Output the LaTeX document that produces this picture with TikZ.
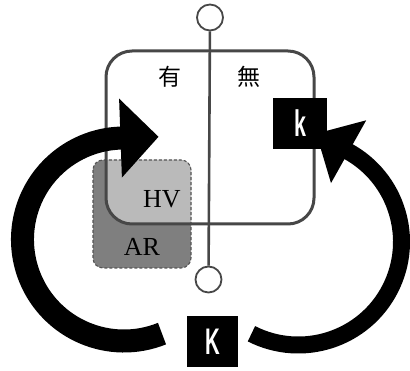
\documentclass[tikz,border=0pt]{standalone}
\usepackage{fontspec}
\setmainfont{Liberation Serif}
\newfontfamily\cjk{Noto Sans CJK JP}
\newfontfamily\kfont{Liberation Sans}
\definecolor{frame}{HTML}{474747}
\definecolor{ardark}{HTML}{7F7F7F}
\definecolor{arlight}{HTML}{BABABA}
\definecolor{dashc}{HTML}{555555}
\tikzset{
  pin/.style={circle, draw=frame, line width=1.8pt, fill=white, minimum size=26pt, inner sep=0pt},
  kbox/.style={fill=black, text=white, inner sep=0pt, font=\kfont\bfseries\fontsize{37}{37}\selectfont},
  bigarc/.style={draw=black, line cap=butt},
  serlab/.style={inner sep=0pt, font=\fontsize{26}{26}\selectfont},
  cjklab/.style={inner sep=0pt, font=\cjk\fontsize{23}{23}\selectfont}
}
\begin{document}
\begin{tikzpicture}[x=1pt,y=-1pt]
\useasboundingbox (0,0) rectangle (410,371);
% AR / HV box
\fill[ardark, rounded corners=10pt] (93,160) rectangle (191,268);
\begin{scope}
  \clip[rounded corners=26pt] (106,51) rectangle (314,224);
  \fill[arlight, rounded corners=10pt] (93,160) rectangle (191,268);
\end{scope}
\draw[dashc, line width=1.1pt, dash pattern=on 3pt off 2pt, rounded corners=10pt] (93,160) rectangle (191,268);
% big rounded rectangle
\node[draw=frame, line width=3pt, rounded corners=26pt, minimum width=208pt, minimum height=173pt, inner sep=0pt] (frm) at (210,137.5) {};
% vertical axis with pins
\node[pin] (tc) at (210,17.5) {};
\node[pin] (bc) at (208.5,279.5) {};
\draw[frame, line width=2.6pt] (tc) -- (bc);
% labels
\node[cjklab] (you) at (170,77) {有};
\node[cjklab] (wu) at (249,77) {無};
\node[serlab] (hv) at (162,199) {HV};
\node[serlab] (ar) at (142,246.5) {AR};
% k boxes
\node[kbox, minimum width=54pt, minimum height=51pt] (ksmall) at (300,123.5) {\scalebox{0.58}[1]{k}};
\node[kbox, minimum width=51pt, minimum height=51pt] (kbig) at (212.5,341.5) {\scalebox{0.55}[1]{K}};
% left arrow
\draw[bigarc, line width=23pt] (162.0,333.6) arc[start angle=68, end angle=268.5, radius=101.5];
\fill[black] (119.1,98.6) -- (158.5,136.8) -- (121.9,177.6) -- cycle;
% right arrow
\draw[bigarc, line width=17pt] (251.45,333.75) arc[start angle=117, end angle=-61.3, radius=103.2];
\fill[black] (366.2,120.3) -- (316.3,133.6) -- (331,183.1) -- cycle;
\end{tikzpicture}
\end{document}
